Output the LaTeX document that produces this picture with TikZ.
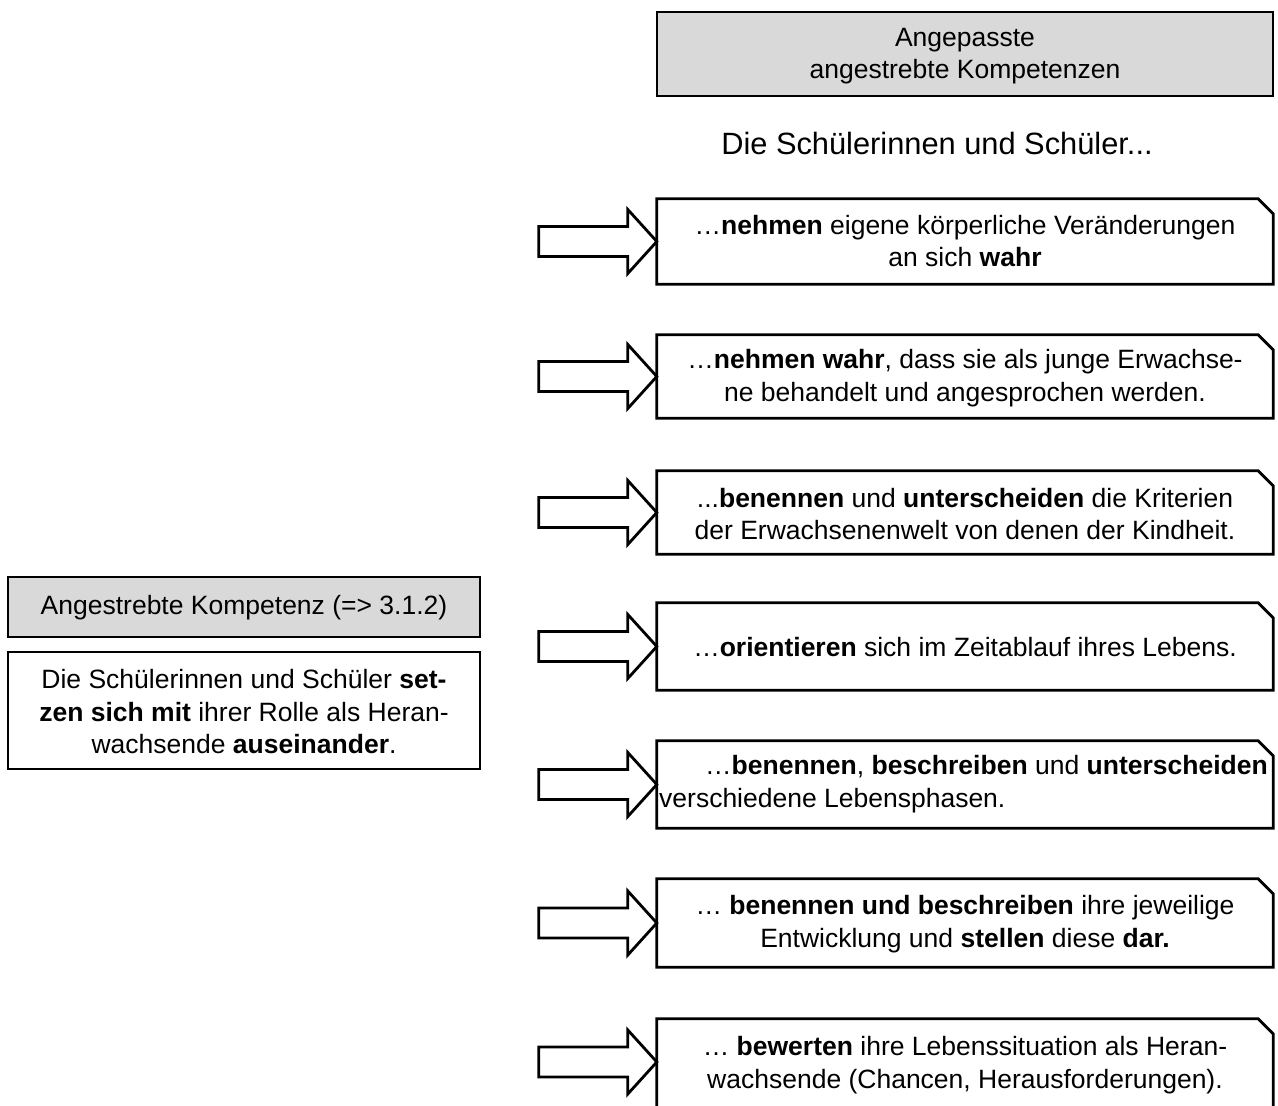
\documentclass[tikz,border=0pt]{standalone}
\usepackage{fontspec}
\setmainfont{Liberation Sans}
\definecolor{boxgray}{RGB}{217,217,217}
\begin{document}
\begin{tikzpicture}[x=1pt,y=-1pt,
  txt/.style={font=\fontsize{26.5}{32.5}\selectfont, align=center, inner sep=0pt},
  bigtxt/.style={font=\fontsize{30.8}{36}\selectfont, align=center, inner sep=0pt},
  plainbox/.style={draw=black, line width=2.8pt, inner sep=0pt},
  graybox/.style={plainbox, fill=boxgray},
  holder/.style={minimum width=616pt, inner sep=0pt, draw=none},
  outline/.style={draw=black, line width=2.8pt, line join=miter},
  blockarrow/.style={draw=black, line width=2.8pt, fill=white, line join=miter}
]
\useasboundingbox (0,0) rectangle (1278,1106);
\clip (0,0) rectangle (1278,1106);

% header box
\node[graybox, minimum width=616pt, minimum height=84pt] (head) at (965,54) {};
\node[txt] (headtxt) at (965,56) {Angepasste\\angestrebte Kompetenzen};
\node[bigtxt] (intro) at (937,143) {Die Schülerinnen und Schüler...};

% left boxes
\node[graybox, minimum width=472pt, minimum height=60pt] (lhead) at (244,607) {};
\node[txt] (lheadtxt) at (244,608) {Angestrebte Kompetenz (=> 3.1.2)};
\node[plainbox, minimum width=472pt, minimum height=117pt] (lbox) at (244,710.5) {};
\node[txt] (lboxtxt) at (244,712) {Die Schülerinnen und Schüler \textbf{set-}\\\textbf{zen sich mit} ihrer Rolle als Heran-\\wachsende \textbf{auseinander}.};

% right boxes: holders
\node[holder, minimum height=85pt] (b1) at (965,241.5) {};
\node[holder, minimum height=83pt] (b2) at (965,376.5) {};
\node[holder, minimum height=83pt] (b3) at (965,512.5) {};
\node[holder, minimum height=87pt] (b4) at (965,646.5) {};
\node[holder, minimum height=87pt] (b5) at (965,784.5) {};
\node[holder, minimum height=88pt] (b6) at (965,923) {};
\node[holder, minimum height=86pt] (b7) at (965,1062) {};

\foreach \b in {b1,b2,b3,b4,b5,b6}{
  \draw[outline] (\b.south west) -- (\b.north west) -- ([xshift=-15pt]\b.north east)
    -- ([yshift=-15pt]\b.north east) -- (\b.south east) -- cycle;
}
\draw[outline] ([yshift=-60pt]b7.south west) -- (b7.north west) -- ([xshift=-15pt]b7.north east)
    -- ([yshift=-15pt]b7.north east) -- ([yshift=-60pt]b7.south east);

\foreach \b in {b1,b2,b3,b4,b5,b6,b7}{
  \draw[blockarrow] (\b.west) -- ++(-29,-32) -- ++(0,17) -- ++(-89,0) -- ++(0,30)
    -- ++(89,0) -- ++(0,17) -- cycle;
}

% texts
\node[txt] (t1) at (965,241) {…\textbf{nehmen} eigene körperliche Veränderungen\\an sich \textbf{wahr}};
\node[txt] (t2) at (965,378) {…\textbf{nehmen wahr}, dass sie als junge Erwachse-\\ne behandelt und angesprochen werden.};
\node[txt] (t3) at (965,514) {...\textbf{benennen} und \textbf{unterscheiden} die Kriterien\\der Erwachsenenwelt von denen der Kindheit.};
\node[txt] (t4) at (965,647) {…\textbf{orientieren} sich im Zeitablauf ihres Lebens.};
\node[txt, align=left, anchor=west] (t5) at (659,784) {\hspace*{46pt}…\textbf{benennen}, \textbf{beschreiben} und \textbf{unterscheiden}\\verschiedene Lebensphasen.};
\node[txt] (t6) at (965,924) {… \textbf{benennen und beschreiben} ihre jeweilige\\Entwicklung und \textbf{stellen} diese \textbf{dar.}};
\node[txt] (t7) at (965,1065) {… \textbf{bewerten} ihre Lebenssituation als Heran-\\wachsende (Chancen, Herausforderungen).};
\end{tikzpicture}
\end{document}
